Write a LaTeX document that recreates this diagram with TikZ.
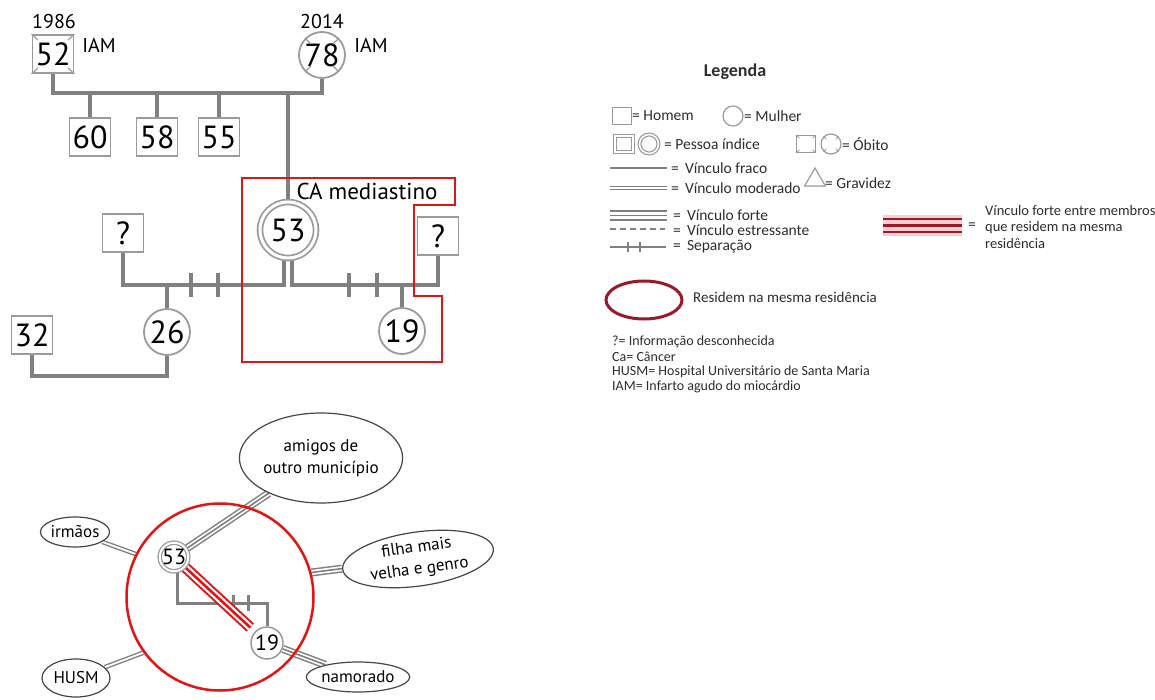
\documentclass[tikz,border=0pt]{standalone}
\usepackage{fontspec}
\setmainfont{Carlito}
\newfontfamily\gfont{PT Sans}
\usetikzlibrary{shapes.geometric,backgrounds,calc}
\definecolor{lg}{RGB}{128,128,128}
\definecolor{bg}{RGB}{155,155,155}
\definecolor{rbox}{RGB}{228,20,20}
\definecolor{dred}{RGB}{155,25,40}
\definecolor{ltxt}{RGB}{45,45,45}
\definecolor{pinkish}{RGB}{245,205,210}
\definecolor{eline}{RGB}{70,70,70}
\begin{document}
\begin{tikzpicture}[x=1pt,y=-1pt,
  gnum/.style={font=\gfont\fontsize{32}{32}\selectfont, text=black},
  man/.style={gnum, draw=bg, line width=1.8pt, fill=white, minimum width=41pt, minimum height=38pt, inner sep=0pt},
  woman/.style={gnum, circle, draw=bg, line width=1.8pt, fill=white, minimum size=46pt, inner sep=0pt},
  indexw/.style={gnum, circle, draw=bg, fill=white, double=white, double distance=3pt, line width=1.8pt, minimum size=56pt, inner sep=0pt},
  link/.style={draw=lg, line width=4pt},
  obit/.style={draw=bg, line width=1.2pt},
  lbl/.style={font=\gfont\fontsize{20}{20}\selectfont, inner sep=0pt},
  ltx/.style={anchor=west, inner sep=0pt, font=\fontsize{15.5}{17}\selectfont, text=ltxt},
  fnote/.style={anchor=west, inner sep=0pt, font=\fontsize{14}{15}\selectfont, text=ltxt},
  lsym/.style={draw=bg, line width=1.2pt, inner sep=0pt},
  elink/.style={draw=lg, line width=3pt},
  eoval/.style={ellipse, draw=eline, line width=1.2pt, fill=white, inner sep=0pt, font=\gfont\fontsize{17}{22}\selectfont, align=center},
  enum/.style={font=\gfont\fontsize{22}{22}\selectfont},
  dgray/.style={draw=lg, double=white, double distance=1.8pt, line width=1.4pt},
  tgray/.style={draw=lg, line width=8pt, postaction={draw=white, line width=5pt}, postaction={draw=lg, line width=1.6pt}},
  tred/.style={draw=rbox, line width=11pt, postaction={draw=white, line width=7pt}, postaction={draw=rbox, line width=2.6pt}}
]
\useasboundingbox (0,0) rectangle (1155,700);
\begin{scope}[on background layer]
  \fill[white] (0,0) rectangle (1155,700);
\end{scope}

% ---------------- genogram ----------------
\node[man] (n52) at (53,54) {52};
\node[woman] (n78) at (322,55) {78};
\node[man] (n60) at (90,137) {60};
\node[man] (n58) at (157,137) {58};
\node[man] (n55) at (219,137) {55};
\node[indexw] (n53) at (288,230) {53};
\node[man] (nq1) at (123,233) {?};
\node[man] (nq2) at (438,236) {?};
\node[woman] (n26) at (167,332) {26};
\node[woman] (n19) at (402,331) {19};
\node[man] (n32) at (32,335) {32};

\node[lbl] (t1986) at (54,22) {1986};
\node[lbl] (t2014) at (322,22) {2014};
\node[lbl] (tiam1) at (99,45) {IAM};
\node[lbl] (tiam2) at (371,45) {IAM};
\node[font=\gfont\fontsize{23}{23}\selectfont, inner sep=0pt] (tca) at (367,191) {CA mediastino};

\foreach \a in {north west, north east, south west, south east}
  \draw[obit] (n52.\a) -- ($(n52.\a)!0.3!(n52.center)$);
\foreach \a in {45,135,225,315}
  \draw[obit] (n78.\a) -- ($(n78.\a)!0.35!(n78.center)$);

\begin{scope}[on background layer]
  \coordinate (b1) at (0,93);
  \coordinate (b2) at (0,285);
  \coordinate (b3) at (0,376);
  \draw[link] (n52.south) -- (n52.south |- b1) -- (n78.south |- b1) -- (n78.south);
  \foreach \n in {n60,n58,n55,n53}
    \draw[link] (\n.north) -- (\n.north |- b1);
  \draw[link] (nq1.south) -- (nq1.south |- b2) -- (n53.-97 |- b2) -- (n53.-97);
  \draw[link] (n53.-83) -- (n53.-83 |- b2) -- (nq2.south |- b2) -- (nq2.south);
  \draw[link] (n26.north) -- (n26.north |- b2);
  \draw[link] (n19.north) -- (n19.north |- b2);
  \draw[link] (n32.south) -- (n32.south |- b3) -- (n26.south |- b3) -- (n26.south);
  \foreach \x in {191,218,349,377}
    \draw[link] (\x,273) -- (\x,297);
\end{scope}

\draw[rbox, line width=2.8pt] (242,178) -- (455,178) -- (455,205) -- (414,205) -- (414,296) -- (442,296) -- (442,362) -- (242,362) -- cycle;

% ---------------- legend ----------------
\node[font=\bfseries\fontsize{18}{20}\selectfont, text=ltxt] (leg) at (735,72) {Legenda};

\node[lsym, minimum width=19pt, minimum height=17pt] (lhom) at (622,116) {};
\node[ltx] at (632,116) {= Homem};
\node[lsym, circle, minimum size=20pt] (lmul) at (733,116) {};
\node[ltx] at (744,116) {= Mulher};

\node[lsym, double=white, double distance=1.6pt, minimum width=18pt, minimum height=16pt] (lis) at (624,144) {};
\node[lsym, circle, double=white, double distance=1.6pt, minimum size=19pt] (lic) at (649,144) {};
\node[ltx] at (664,144) {= Pessoa índice};

\node[lsym, minimum width=19pt, minimum height=17pt] (los) at (806,144) {};
\node[lsym, circle, minimum size=20pt] (loc) at (831,144) {};
\foreach \a in {north west, north east, south west, south east}
  \draw[obit, line width=0.8pt] (los.\a) -- ($(los.\a)!0.35!(los.center)$);
\foreach \a in {45,135,225,315}
  \draw[obit, line width=0.8pt] (loc.\a) -- ($(loc.\a)!0.35!(loc.center)$);
\node[ltx] at (842,144) {= Óbito};

\draw[draw=lg, line width=1.5pt] (610,168) -- (667,168);
\node[ltx] at (671,168) {= \,Vínculo fraco};
\node[lsym, regular polygon, regular polygon sides=3, minimum size=24pt] (ltri) at (815,180) {};
\node[ltx] at (825,183) {= Gravidez};

\draw[draw=lg, double=white, double distance=1.8pt, line width=1.4pt] (610,188) -- (667,188);
\node[ltx] at (671,188) {= \,Vínculo moderado};

\draw[draw=lg, line width=1.4pt] (610,211) -- (667,211);
\draw[draw=lg, line width=1.4pt] (610,215.5) -- (667,215.5);
\draw[draw=lg, line width=1.4pt] (610,220) -- (667,220);
\node[ltx] at (673,215) {= \,Vínculo forte};

\draw[draw=lg, line width=1.2pt, dash pattern=on 6pt off 4pt] (610,229) -- (665,229);
\node[ltx] at (673,230) {= \,Vínculo estressante};

\draw[draw=lg, line width=1.2pt] (610,247) -- (666,247);
\draw[draw=lg, line width=1.2pt] (628,242) -- (628,252);
\draw[draw=lg, line width=1.2pt] (640,242) -- (640,252);
\node[ltx] at (673,247) {= \,Separação};

\node[ellipse, draw=dred, line width=3pt, minimum width=76pt, minimum height=38pt, inner sep=0pt] (lres) at (644,300) {};
\node[ltx, font=\fontsize{15}{17}\selectfont] at (693,297) {Residem na mesma residência};

\node[fnote] at (612,342) {?= Informação desconhecida};
\node[fnote] at (612,357) {Ca= Câncer};
\node[fnote] at (612,372) {HUSM= Hospital Universitário de Santa Maria};
\node[fnote] at (612,387) {IAM= Infarto agudo do miocárdio};

\fill[pinkish] (883,215) rectangle (962,236);
\foreach \y in {219,225.5,232}
  \draw[draw=dred, line width=2.2pt] (883,\y) -- (962,\y);
\node[ltx] at (968,226) {=};
\node[anchor=north west, inner sep=0pt, font=\fontsize{14.5}{16.5}\selectfont, text=ltxt, align=left] at (985,205) {Vínculo forte entre membros\\que residem na mesma\\residência};

% ---------------- ecomap ----------------
\node[circle, draw=rbox, line width=2.5pt, minimum size=187pt, inner sep=0pt] (redc) at (220,597) {};
\node[circle, draw=bg, fill=white, double=white, double distance=2pt, line width=1.3pt, minimum size=28pt, inner sep=0pt, enum] (e53) at (174,557) {53};
\node[circle, draw=bg, fill=white, line width=1.5pt, minimum size=32pt, inner sep=0pt, enum] (e19) at (267,643) {19};

\node[eoval, minimum width=146pt, minimum height=90pt] (amigos) at (321,458) {amigos de\\outro município};
\node[eoval, minimum width=64pt, minimum height=30pt] (irmaos) at (75,532) {irmãos};
\node[eoval, minimum width=68pt, minimum height=38pt] (husm) at (76,678) {HUSM};
\node[eoval, minimum width=102pt, minimum height=30pt] (namorado) at (358,677) {namorado};
\node[eoval, rotate=8, minimum width=152pt, minimum height=54pt] (filha) at (418,559) {filha mais\\velha e genro};

\begin{scope}[on background layer]
  \coordinate (eb) at (0,603);
  \draw[elink] (e53.-75) -- (e53.-75 |- eb) -- (e19.north |- eb) -- (e19.north);
  \draw[elink] (233,595) -- (233,611);
  \draw[elink] (248,595) -- (248,611);
  \draw[tred, shorten >=6pt] (e53) -- (e19);
  \draw[tgray] (e53) -- (amigos);
  \draw[dgray] (irmaos) -- (redc.153);
  \draw[dgray] (husm) -- (redc.216);
  \draw[tgray] (redc.15) -- (filha);
  \draw[tgray] (e19) -- (namorado);
\end{scope}
\end{tikzpicture}
\end{document}
